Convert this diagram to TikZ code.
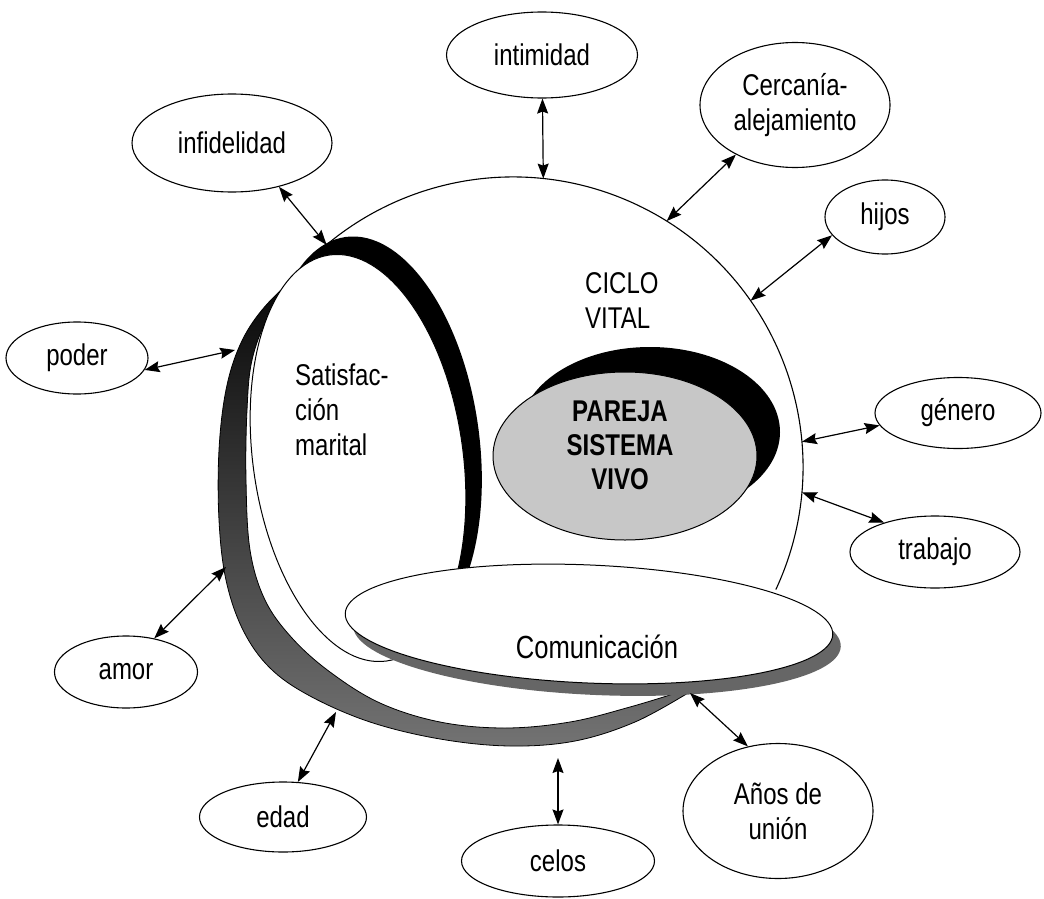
\documentclass[tikz,border=0pt]{standalone}
\usepackage{fontspec}
\setmainfont{Liberation Sans}[FakeStretch=0.8]
\usetikzlibrary{shapes.geometric, arrows.meta}

\begin{document}
\begin{tikzpicture}[x=1pt, y=-1pt,
    font=\fontsize{30}{35}\selectfont,
    factor/.style={ellipse, draw, line width=1.1pt, inner sep=0pt, align=center, fill=white},
    conn/.style={{Stealth[length=15pt,width=11pt,inset=2pt]}-{Stealth[length=15pt,width=11pt,inset=2pt]}, line width=1.2pt},
    txt/.style={inner sep=0pt, align=left}]
\useasboundingbox (0,0) rectangle (1044,899);

% ciclo vital
\node[circle, minimum size=580pt, inner sep=0pt, outer sep=0pt, fill=white] (ciclo) at (513,467) {};
\draw[line width=1.1pt] (ciclo.-25) arc[start angle=25, end angle=-200, radius=290];

% banda gris
\draw[line width=0.8pt, top color=black, bottom color=black!55]
    plot[smooth, tension=0.6] coordinates {(335,251) (295,278) (262,310) (240,345) (226,390) (219,450) (219,520) (226,580) (243,630) (270,668) (310,696) (370,722) (440,739) (510,746) (575,741) (635,722) (688,693)}
    -- plot[smooth, tension=0.6] coordinates {(686,690) (630,707) (570,722) (505,728) (440,722) (380,703) (330,672) (292,638) (265,600) (250,550) (246,480) (247,410) (252,360) (268,318) (295,285) (335,251)}
    -- cycle;

% satisfaccion marital
\fill[rotate around={8:(374,440)}] (374,440) ellipse [x radius=105, y radius=205];
\draw[line width=1pt, fill=white, rotate around={8:(358,458)}] (358,458) ellipse [x radius=105, y radius=205];

% pareja
\fill (650,432) ellipse [x radius=130, y radius=85];
\node[ellipse, draw, line width=1pt, fill=black!22, minimum width=264pt, minimum height=168pt, inner sep=0pt] (pareja) at (625,456) {};

% comunicacion
\fill[black!60, rotate around={-2.5:(597,636)}] (597,636) ellipse [x radius=244, y radius=59];
\draw[line width=1pt, fill=white, rotate around={-2.5:(589,624)}] (589,624) ellipse [x radius=244, y radius=59];

% textos
\node[txt, align=center, font=\fontsize{30}{34}\selectfont\bfseries] (parejatxt) at (620,445) {PAREJA\\SISTEMA\\VIVO};
\node[txt, font=\fontsize{32}{36}\selectfont] (comtxt) at (597,647) {Comunicación};
\node[txt, anchor=west] (ciclotxt) at (585,301) {CICLO\\VITAL};
\node[txt, anchor=west] (satistxt) at (295,410) {Satisfac-\\ción\\marital};

% factores
\node[factor, minimum width=191pt, minimum height=86pt] (intimidad) at (542,55) {intimidad};
\node[factor, minimum width=190pt, minimum height=125pt] (cercania) at (795,105) {Cercanía-\\alejamiento};
\node[factor, minimum width=200pt, minimum height=98pt] (infidelidad) at (232,143) {infidelidad};
\node[factor, minimum width=120pt, minimum height=74pt] (hijos) at (885,217) {hijos};
\node[factor, minimum width=142pt, minimum height=72pt] (poder) at (77,358) {poder};
\node[factor, minimum width=166pt, minimum height=71pt] (genero) at (958,413) {género};
\node[factor, minimum width=170pt, minimum height=72pt] (trabajo) at (935,552) {trabajo};
\node[factor, minimum width=143pt, minimum height=72pt] (amor) at (126,672) {amor};
\node[factor, minimum width=167pt, minimum height=70pt] (edad) at (283,817) {edad};
\node[factor, minimum width=193pt, minimum height=72pt] (celos) at (558,861) {celos};
\node[factor, minimum width=190pt, minimum height=135pt] (anos) at (778,811) {Años de\\unión};

% puntos sobre la banda
\coordinate (b-poder) at (235,350);
\coordinate (b-amor) at (226,567);
\coordinate (b-edad) at (336,712);
\coordinate (b-celos) at (558,758);
\coordinate (b-anos) at (690,693);

% flechas
\draw[conn] (intimidad) -- (ciclo.84);
\draw[conn] (cercania.220) -- (ciclo.58);
\draw[conn] (hijos.199) -- (ciclo.35);
\draw[conn] (genero.189) -- (ciclo.5);
\draw[conn] (trabajo.150) -- (ciclo.-5);
\draw[conn] (infidelidad.-43) -- (ciclo.130);
\draw[conn] (poder.-10) -- (b-poder);
\draw[conn] (amor.50) -- (b-amor);
\draw[conn] (edad.67) -- (b-edad);
\draw[conn] (celos.north) -- (b-celos);
\draw[conn] (anos.115) -- (b-anos);
\end{tikzpicture}
\end{document}
